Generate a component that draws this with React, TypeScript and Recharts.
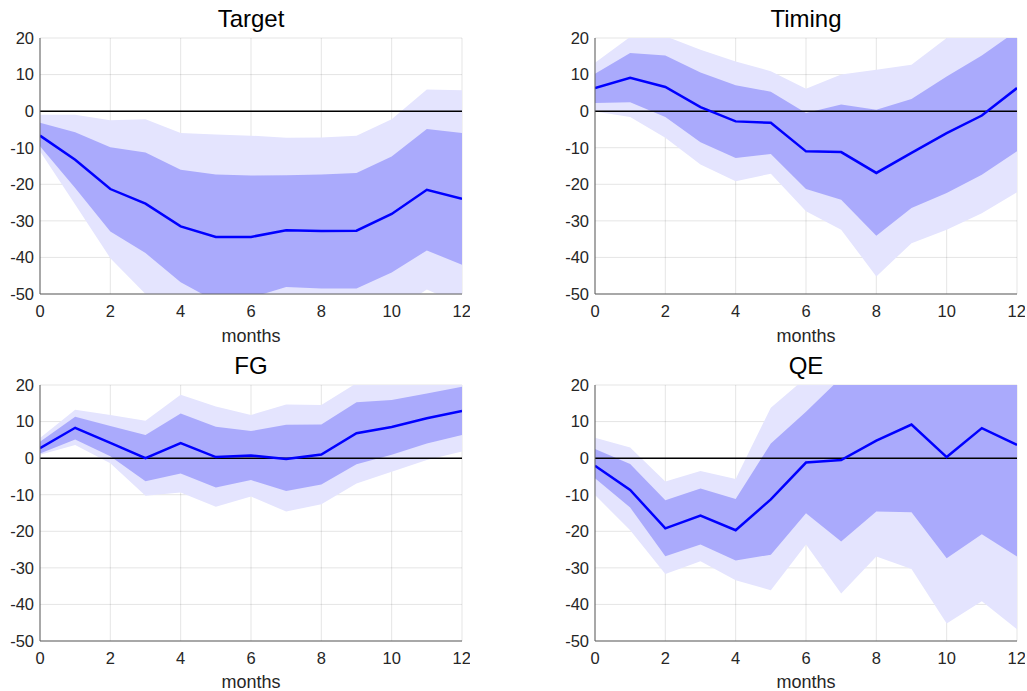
import React from 'react';
import {
  ComposedChart,
  Area,
  Line,
  XAxis,
  YAxis,
  CartesianGrid,
  ReferenceLine
} from 'recharts';

// horizon in months
const months = [0, 1, 2, 3, 4, 5, 6, 7, 8, 9, 10, 11, 12];
const xTicks = [0, 2, 4, 6, 8, 10, 12];
const yTicks = [-50, -40, -30, -20, -10, 0, 10, 20];

// Target shock
const targetMedian = [-6.7, -13.3, -21.3, -25.3, -31.5, -34.4, -34.4, -32.6, -32.8, -32.7, -28.1, -21.5, -24.0];
const targetLo68 = [-9.6, -21.0, -32.9, -38.8, -46.8, -52.0, -51.0, -48.1, -48.5, -48.5, -44.1, -38.1, -42.0];
const targetHi68 = [-3.2, -5.8, -9.9, -11.3, -16.0, -17.3, -17.6, -17.5, -17.3, -16.9, -12.4, -4.9, -6.0];
const targetLo90 = [-11.0, -25.5, -40.2, -50.0, -58.0, -62.0, -62.0, -60.0, -60.0, -60.0, -55.0, -48.8, -53.0];
const targetHi90 = [-1.0, -1.0, -2.5, -2.2, -6.0, -6.4, -6.7, -7.3, -7.2, -6.7, -2.2, 5.9, 5.7];

// Timing shock
const timingMedian = [6.3, 9.1, 6.6, 1.1, -2.8, -3.2, -11.0, -11.2, -16.9, -11.4, -6.0, -1.2, 6.3];
const timingLo68 = [2.2, 2.4, -1.6, -8.5, -12.8, -11.7, -21.3, -24.2, -34.1, -26.5, -22.4, -17.4, -11.0];
const timingHi68 = [10.2, 15.9, 15.2, 10.6, 7.1, 5.3, -0.5, 1.8, 0.4, 3.3, 9.5, 15.2, 22.0];
const timingLo90 = [-0.1, -1.6, -7.3, -14.6, -19.2, -17.1, -27.4, -32.4, -45.2, -36.1, -32.4, -27.9, -22.2];
const timingHi90 = [13.2, 20.3, 20.5, 16.8, 13.6, 10.9, 6.1, 10.0, 11.3, 12.7, 20.0, 25.0, 30.0];

// Forward guidance shock
const fgMedian = [2.7, 8.3, 4.2, 0.0, 4.1, 0.3, 0.7, -0.2, 1.0, 6.8, 8.5, 10.9, 12.9];
const fgLo68 = [1.3, 5.1, 0.5, -6.3, -4.2, -8.0, -6.0, -9.0, -7.2, -1.7, 0.9, 4.0, 6.3];
const fgHi68 = [4.5, 11.3, 8.8, 6.3, 12.2, 8.6, 7.4, 9.1, 9.2, 15.3, 15.9, 17.7, 19.5];
const fgLo90 = [0.9, 3.6, -1.4, -10.3, -9.4, -13.3, -10.5, -14.6, -12.6, -6.9, -3.7, -0.5, 1.8];
const fgHi90 = [5.5, 13.2, 11.8, 10.2, 17.3, 14.1, 11.8, 14.7, 14.5, 20.5, 21.5, 22.5, 23.5];

// QE shock
const qeMedian = [-2.1, -8.7, -19.2, -15.7, -19.7, -11.3, -1.2, -0.5, 4.8, 9.2, 0.3, 8.2, 3.6];
const qeLo68 = [-5.5, -13.5, -26.8, -23.6, -28.0, -26.4, -15.1, -22.8, -14.6, -14.8, -27.4, -20.8, -26.9];
const qeHi68 = [2.5, -1.6, -11.5, -8.3, -11.2, 4.0, 12.7, 22.0, 30.0, 35.0, 30.0, 32.0, 30.0];
const qeLo90 = [-10.1, -19.7, -31.7, -28.2, -33.4, -36.1, -23.6, -37.0, -26.9, -30.3, -45.2, -39.1, -46.8];
const qeHi90 = [5.6, 2.9, -6.4, -3.5, -5.7, 13.8, 22.0, 35.0, 40.0, 45.0, 40.0, 42.0, 40.0];

const FONT = '"Liberation Sans", Arial, Helvetica, sans-serif';
const LIGHT = '#e4e4fe';
const DARK = '#aaaafc';
const AXIS = '#5e5e5e';
const TEXT = '#262626';

interface PanelProps {
  title: string;
  left: number;
  top: number;
  height: number;
  marginTop: number;
  median: number[];
  lo68: number[];
  hi68: number[];
  lo90: number[];
  hi90: number[];
}

const Panel = ({ title, left, top, height, marginTop, median, lo68, hi68, lo90, hi90 }: PanelProps) => {
  const rows = months.map((m, i) => ({
    m,
    median: median[i],
    band68: [lo68[i], hi68[i]],
    band90: [lo90[i], hi90[i]]
  }));

  return (
    <div style={{ position: 'absolute', left, top, width: 470, height }}>
      <div
        style={{
          position: 'absolute',
          left: 40,
          width: 422,
          top: marginTop - 33,
          textAlign: 'center',
          fontFamily: FONT,
          fontSize: 24,
          lineHeight: '28px',
          color: '#000'
        }}
      >
        {title}
      </div>
      <ComposedChart
        width={470}
        height={height}
        data={rows}
        margin={{ top: marginTop, right: 8, left: 0, bottom: 0 }}
      >
        <XAxis
          dataKey="m"
          type="number"
          domain={[0, 12]}
          ticks={xTicks}
          height={height - marginTop - 256}
          tickSize={0}
          tickMargin={11}
          axisLine={{ stroke: AXIS }}
          tick={{ fill: TEXT, fontSize: 16.5, fontFamily: FONT }}
          label={{ value: 'months', position: 'insideBottom', offset: 3, fill: TEXT, fontSize: 18, fontFamily: FONT }}
          allowDataOverflow
        />
        <YAxis
          type="number"
          domain={[-50, 20]}
          ticks={yTicks}
          width={40}
          tickSize={0}
          tickMargin={6}
          axisLine={{ stroke: AXIS }}
          tick={{ fill: TEXT, fontSize: 16.5, fontFamily: FONT }}
          allowDataOverflow
        />
        <Area dataKey="band90" stroke="none" fill={LIGHT} fillOpacity={1} isAnimationActive={false} />
        <Area dataKey="band68" stroke="none" fill={DARK} fillOpacity={1} isAnimationActive={false} />
        <CartesianGrid stroke="#262626" strokeOpacity={0.12} horizontalValues={yTicks} verticalValues={xTicks} />
        <ReferenceLine y={0} stroke="#000" strokeWidth={1.5} />
        <Line
          dataKey="median"
          stroke="#0000ff"
          strokeWidth={2.5}
          dot={false}
          activeDot={false}
          isAnimationActive={false}
        />
      </ComposedChart>
    </div>
  );
};

export default function App() {
  return (
    <div
      style={{
        position: 'absolute',
        left: 0,
        top: 0,
        width: 1027,
        height: 691,
        overflow: 'hidden',
        background: '#fff'
      }}
    >
      <Panel title="Target" left={0} top={0} height={345} marginTop={38}
        median={targetMedian} lo68={targetLo68} hi68={targetHi68} lo90={targetLo90} hi90={targetHi90} />
      <Panel title="Timing" left={555} top={0} height={345} marginTop={38}
        median={timingMedian} lo68={timingLo68} hi68={timingHi68} lo90={timingLo90} hi90={timingHi90} />
      <Panel title="FG" left={0} top={346} height={345} marginTop={39}
        median={fgMedian} lo68={fgLo68} hi68={fgHi68} lo90={fgLo90} hi90={fgHi90} />
      <Panel title="QE" left={555} top={346} height={345} marginTop={39}
        median={qeMedian} lo68={qeLo68} hi68={qeHi68} lo90={qeLo90} hi90={qeHi90} />
    </div>
  );
}
